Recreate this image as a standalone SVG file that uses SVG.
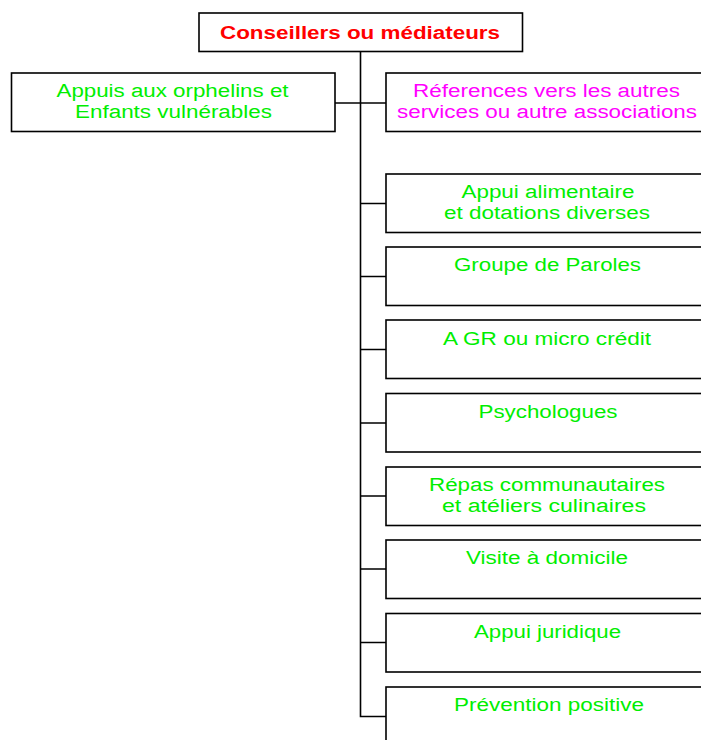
<svg xmlns="http://www.w3.org/2000/svg" width="701" height="740" viewBox="0 0 701 740">
<style>
.box{fill:#fff;stroke:#000;stroke-width:1.6}
.ln{stroke:#000;stroke-width:1.6;fill:none}
text{font-family:"Liberation Sans",Arial,sans-serif;font-size:18px;text-anchor:middle}
.g{fill:#00ee00}
.m{fill:#ff00ff}
.r{fill:#ff0000;font-weight:bold}
</style>
<rect width="701" height="740" fill="#fff"/>
<g id="connectors">
<path class="ln" d="M360.5 52V716.5H386"/>
<path class="ln" d="M335 103H386"/>
<path class="ln" d="M360.5 203.5H386M360.5 276.5H386M360.5 349.5H386M360.5 423H386M360.5 496H386M360.5 569H386M360.5 642.5H386"/>
</g>
<g id="n0"><rect class="box" x="199" y="13" width="323.5" height="38.5"/>
<text class="r" x="360" y="39" textLength="280" lengthAdjust="spacingAndGlyphs">Conseillers ou médiateurs</text></g>
<g id="n1"><rect class="box" x="11.5" y="73" width="323.5" height="58.5"/>
<text class="g" x="172.5" y="97" textLength="232" lengthAdjust="spacingAndGlyphs">Appuis aux orphelins et</text>
<text class="g" x="173.5" y="118" textLength="197" lengthAdjust="spacingAndGlyphs">Enfants vulnérables</text></g>
<g id="n2"><rect class="box" x="386" y="73" width="330" height="58.5"/>
<text class="m" x="546.5" y="97" textLength="267" lengthAdjust="spacingAndGlyphs">Réferences vers les autres</text>
<text class="m" x="547" y="117.5" textLength="300" lengthAdjust="spacingAndGlyphs">services ou autre associations</text></g>
<g id="n3"><rect class="box" x="386" y="174" width="330" height="58.5"/>
<text class="g" x="548" y="198" textLength="173" lengthAdjust="spacingAndGlyphs">Appui alimentaire</text>
<text class="g" x="547" y="219" textLength="206" lengthAdjust="spacingAndGlyphs">et dotations diverses</text></g>
<g id="n4"><rect class="box" x="386" y="247" width="330" height="58.5"/>
<text class="g" x="547.5" y="271" textLength="187" lengthAdjust="spacingAndGlyphs">Groupe de Paroles</text></g>
<g id="n5"><rect class="box" x="386" y="320" width="330" height="58.5"/>
<text class="g" x="547" y="344.5" textLength="208" lengthAdjust="spacingAndGlyphs">A GR ou micro crédit</text></g>
<g id="n6"><rect class="box" x="386" y="393.5" width="330" height="58.5"/>
<text class="g" x="548" y="417.5" textLength="139" lengthAdjust="spacingAndGlyphs">Psychologues</text></g>
<g id="n7"><rect class="box" x="386" y="467" width="330" height="58.5"/>
<text class="g" x="547" y="491" textLength="236" lengthAdjust="spacingAndGlyphs">Répas communautaires</text>
<text class="g" x="544" y="512" textLength="204" lengthAdjust="spacingAndGlyphs">et atéliers culinaires</text></g>
<g id="n8"><rect class="box" x="386" y="540" width="330" height="58.5"/>
<text class="g" x="547" y="564" textLength="162" lengthAdjust="spacingAndGlyphs">Visite à domicile</text></g>
<g id="n9"><rect class="box" x="386" y="613.5" width="330" height="58.5"/>
<text class="g" x="547.5" y="637.5" textLength="147" lengthAdjust="spacingAndGlyphs">Appui juridique</text></g>
<g id="n10"><rect class="box" x="386" y="687" width="330" height="58.5"/>
<text class="g" x="549" y="711" textLength="190" lengthAdjust="spacingAndGlyphs">Prévention positive</text></g>
</svg>
